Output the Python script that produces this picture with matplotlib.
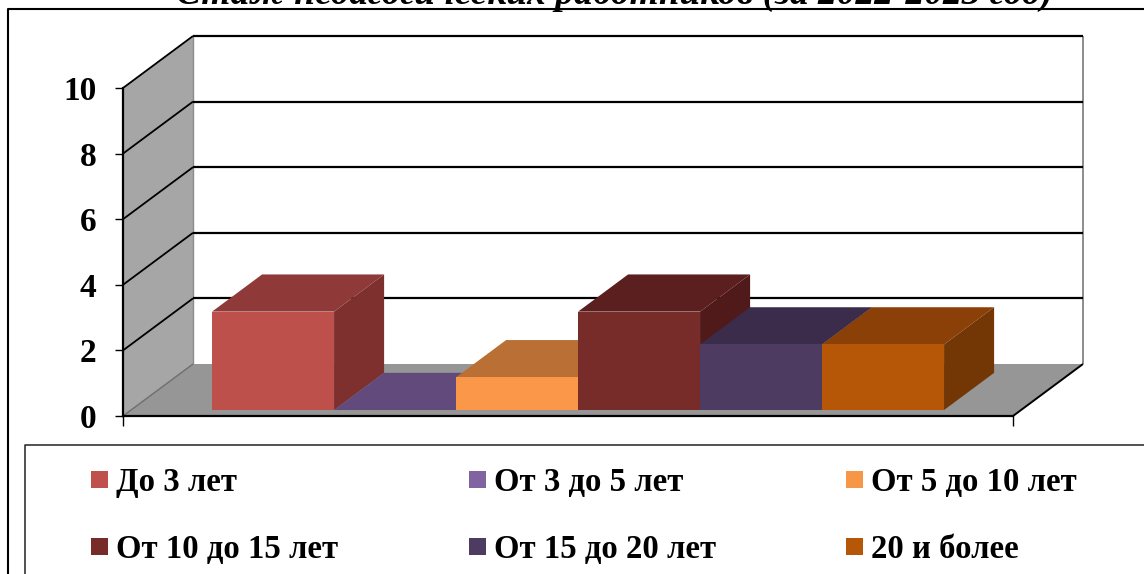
import matplotlib
matplotlib.use("Agg")
import matplotlib.pyplot as plt
from matplotlib.patches import Rectangle

plt.rcParams['font.family'] = ['Liberation Serif', 'DejaVu Serif']

# Данные диаграммы
TITLE = "Стаж педагогических работников (за 2022-2023 год)"
CATEGORIES = ["До 3 лет", "От 3 до 5 лет", "От 5 до 10 лет",
              "От 10 до 15 лет", "От 15 до 20 лет", "20 и более"]
VALUES = [3, 0, 1, 3, 2, 2]
Y_TICKS = [0, 2, 4, 6, 8, 10]

# Цвета: легенда, передняя грань, верхняя грань, боковая грань
LEGEND_COLORS = ["#C0504D", "#8064A2", "#F79646", "#772C2A", "#4D3B62", "#B65708"]
FRONT_COLORS = ["#BE504B", "#624B7C", "#FA9748", "#772C2A", "#4D3B62", "#B65708"]
TOP_COLORS = ["#8F3A38", "#624B7C", "#BA7034", "#5A1F1E", "#3B2C4C", "#8A4006"]
SIDE_COLORS = ["#7D302E", "#4A3860", "#B86A28", "#4F1A19", "#33263F", "#733605"]

W, H = 1144, 574
DEPTH_X = 70 / 890   # сдвиг глубины в единицах оси x
DEPTH_Y = 52 / 32.8  # сдвиг глубины в единицах оси y
BAR_W = 122 / 890
CENTER = 0.5 + 2 / 890
Z_FRONT = 0.115
Z_BACK = 0.83


def project(x, y, z):
    return x + z * DEPTH_X, y + z * DEPTH_Y


def face(ax, points, color, zorder):
    xs = [project(*p)[0] for p in points]
    ys = [project(*p)[1] for p in points]
    ax.fill(xs, ys, color=color, lw=0, clip_on=False, zorder=zorder)


def line3d(ax, a, b, color="black", lw=1.6, zorder=2):
    pa, pb = project(*a), project(*b)
    ax.plot([pa[0], pb[0]], [pa[1], pb[1]], color=color, lw=lw,
            clip_on=False, zorder=zorder, solid_capstyle="butt")


def draw_bar(ax, i, value, zorder):
    x0 = CENTER + (i - 3) * BAR_W
    x1 = x0 + BAR_W
    # верх
    face(ax, [(x0, value, Z_FRONT), (x1, value, Z_FRONT),
              (x1, value, Z_BACK), (x0, value, Z_BACK)], TOP_COLORS[i], zorder)
    # бок
    if value > 0:
        face(ax, [(x1, 0, Z_FRONT), (x1, value, Z_FRONT),
                  (x1, value, Z_BACK), (x1, 0, Z_BACK)], SIDE_COLORS[i], zorder)
        face(ax, [(x0, 0, Z_FRONT), (x1, 0, Z_FRONT),
                  (x1, value, Z_FRONT), (x0, value, Z_FRONT)], FRONT_COLORS[i], zorder)


def main():
    fig = plt.figure(figsize=(W / 100, H / 100), dpi=100, facecolor="white")

    # слой для рамок, заголовка и легенды (в пикселях)
    bg = fig.add_axes([0, 0, 1, 1], zorder=0)
    bg.set_xlim(0, W)
    bg.set_ylim(H, 0)
    bg.axis("off")
    bg.plot([8, 8, W], [H, 9, 9], color="black", lw=1.5)
    bg.plot([25, 25, W], [H, 445, 445], color="#222222", lw=1.1)
    bg.text(614, 4, TITLE, ha="center", va="baseline", fontsize=26.9,
            fontweight="bold", fontstyle="italic", clip_on=True)

    legend_x = [91, 469, 846]
    legend_baseline = [491, 558]
    legend_box_y = [471, 538]
    for i, label in enumerate(CATEGORIES):
        x = legend_x[i % 3]
        bg.add_patch(Rectangle((x, legend_box_y[i // 3]), 17, 17,
                               color=LEGEND_COLORS[i], lw=0))
        bg.text(x + 25, legend_baseline[i // 3], label, va="baseline", ha="left",
                fontsize=23.6, fontweight="bold")

    # основная область: передняя плоскость диаграммы
    ax = fig.add_axes([123 / W, (H - 416) / H, 890 / W, 328 / H], zorder=1)
    ax.patch.set_alpha(0)
    ax.set_xlim(0, 1)
    ax.set_ylim(0, 10)
    ax.set_yticks(Y_TICKS)
    ax.set_xticks([0, 1])
    ax.set_xticklabels([])
    ax.tick_params(axis="y", length=6, width=1, pad=13, labelsize=24)
    ax.tick_params(axis="x", length=7, width=1)
    for lbl in ax.get_yticklabels():
        lbl.set_fontweight("bold")
    for side in ["top", "right"]:
        ax.spines[side].set_visible(False)
    for side in ["left", "bottom"]:
        ax.spines[side].set_linewidth(1.6)

    # стены и пол
    face(ax, [(0, 0, 0), (0, 0, 1), (0, 10, 1), (0, 10, 0)], "#A6A6A6", 1)
    face(ax, [(0, 0, 0), (1, 0, 0), (1, 0, 1), (0, 0, 1)], "#969696", 1)
    line3d(ax, (0, 0, 1), (0, 10, 1), color="#8C8C8C", lw=1)
    line3d(ax, (1, 0, 1), (1, 10, 1), color="#8C8C8C", lw=1.4)
    line3d(ax, (0, 0, 0), (0, 0, 1), color="#6E6E6E", lw=1)
    line3d(ax, (1, 0, 0), (1, 0, 1), lw=1.4)
    for t in Y_TICKS[1:]:
        line3d(ax, (0, t, 1), (1, t, 1))
        line3d(ax, (0, t, 0), (0, t, 1), lw=1.3)

    for i, value in enumerate(VALUES):
        draw_bar(ax, i, value, 3 + i)

    fig.savefig("out.png", dpi=100)


if __name__ == "__main__":
    main()
